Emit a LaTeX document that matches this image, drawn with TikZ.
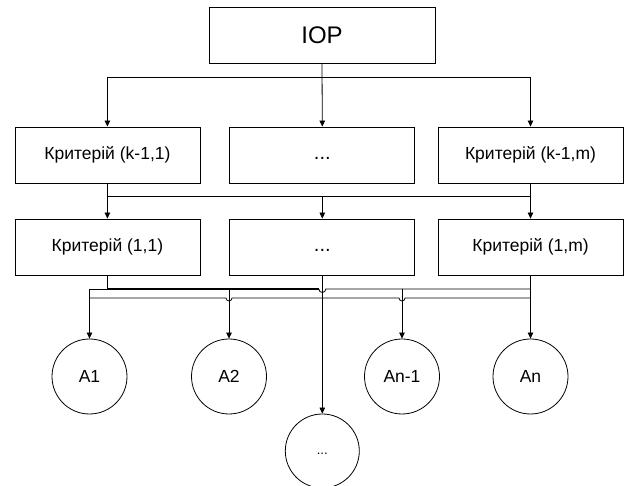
\documentclass[tikz,border=0pt]{standalone}
\usepackage{fontspec}
\setmainfont{Liberation Sans}
\usetikzlibrary{arrows.meta,calc}
\begin{document}
\begin{tikzpicture}[x=1pt,y=-1pt,
  box/.style={draw=black,line width=0.8pt,rectangle,minimum width=185pt,minimum height=56pt,inner sep=0pt,font=\fontsize{17.5}{20}\selectfont},
  topbox/.style={draw=black,line width=0.8pt,rectangle,minimum width=226pt,minimum height=56pt,inner sep=0pt,font=\fontsize{24}{28}\selectfont},
  circ/.style={draw=black,line width=0.8pt,circle,minimum size=75pt,inner sep=0pt,font=\fontsize{17.5}{20}\selectfont},
  conn/.style={draw=black,line width=0.8pt},
  arr/.style={conn,-{Triangle[length=6pt,width=5.5pt]}},
  heavy/.style={draw=black,line width=1.8pt}
]
\useasboundingbox (0,0) rectangle (625,486);
\node[topbox] (iop) at (322,35) {IOP};
\node[box] (r1a) at (107.4,155) {Критерій (k-1,1)};
\node[box,font=\fontsize{20}{24}\selectfont] (r1b) at (322.3,155) {\vphantom{Кр}...};
\node[box] (r1c) at (530.5,155) {Критерій (k-1,m)};
\node[box] (r2a) at (107.4,247) {Критерій (1,1)};
\node[box,font=\fontsize{20}{24}\selectfont] (r2b) at (322.3,247) {\vphantom{Кр}...};
\node[box] (r2c) at (530.5,247) {Критерій (1,m)};
\node[circ] (a1) at (89.5,376.5) {A1};
\node[circ] (a2) at (229,376.5) {A2};
\node[circ] (an1) at (402,376.5) {An-1};
\node[circ] (an) at (530.5,376.5) {An};
\node[circ,minimum size=74pt,font=\fontsize{13}{15}\selectfont] (dots) at (322.3,451) {\vphantom{Кр}...};
\coordinate (h0) at (0,77);
\coordinate (h1) at (0,196);
\coordinate (h2) at (0,289);
\coordinate (h3) at (0,298);
% IOP to row 1
\draw[arr] (iop.south) -- (r1b.north);
\draw[conn] (r1a.north |- h0) -- (r1c.north |- h0);
\draw[arr] (r1a.north |- h0) -- (r1a.north);
\draw[arr] (r1c.north |- h0) -- (r1c.north);
% row 1 to row 2
\draw[conn] (r1a.south) -- (r1a.south |- h1) -- (r1c.south |- h1);
\draw[conn] (r1c.south) -- (r1c.south |- h1);
\draw[arr] (r1a.south |- h1) -- (r2a.north);
\draw[arr] (r1b.south |- h1) -- (r2b.north);
\draw[arr] (r1c.south |- h1) -- (r2c.north);
% row 2 to alternatives
\draw[heavy] (r2a.south) -- (r2a.south |- h2) -- ($(r2b.south |- h2)+(-3.5,0)$);
\draw[conn] ($(r2b.south |- h2)+(-3.5,0)$) arc[start angle=180,end angle=0,radius=3.5] -- (r2c.south |- h2);
\draw[conn] (r2a.south |- h2) -- (a1.north |- h2);
\draw[conn] (a1.north |- h3) -- ($(a2.north |- h3)+(-3,0)$) arc[start angle=180,end angle=0,radius=3] -- ($(an1.north |- h3)+(-3,0)$) arc[start angle=180,end angle=0,radius=3] -- (an.north |- h3);
\draw[arr] (a1.north |- h2) -- (a1.north);
\draw[arr] (a2.north |- h2) -- (a2.north);
\draw[arr] (an1.north |- h2) -- (an1.north);
\draw[arr] (r2b.south) -- (dots.north);
\draw[arr] (r2c.south) -- (an.north);
\end{tikzpicture}
\end{document}
